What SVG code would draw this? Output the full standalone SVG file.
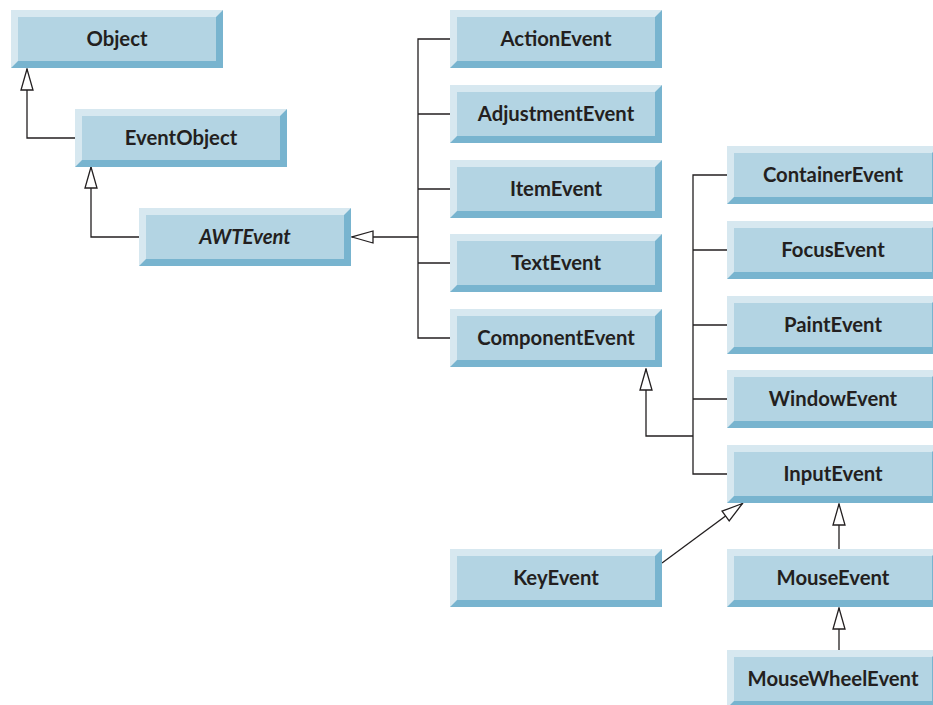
<svg xmlns="http://www.w3.org/2000/svg" width="933" height="705" viewBox="0 0 933 705">
<defs>
<style>
.lt{fill:#d7e8f0}
.dk{fill:#78b4cf}
.fc{fill:#b3d4e3}
.t{font-family:Lato,"Open Sans","Liberation Sans",sans-serif;font-weight:bold;font-size:20.3px;fill:#231f20;text-anchor:middle}
.it{font-style:italic}
.c{stroke:#231f20;stroke-width:1.3;fill:none}
</style>
<marker id="tri" viewBox="0 0 24 14" refX="23" refY="7" markerWidth="24" markerHeight="14" markerUnits="userSpaceOnUse" orient="auto">
<path d="M23,7 L2,1 L2,13 Z" fill="#fff" stroke="#231f20" stroke-width="1.3"/>
</marker>
<g id="box">
<rect x="0" y="0" width="212" height="58" class="dk"/>
<polygon points="0,0 212,0 205,7 7,7 7,51 0,58" class="lt"/>
<rect x="7" y="7" width="198" height="44" class="fc"/>
</g>
</defs>
<g id="connectors">
<path class="c" d="M75,138 H27 V69" marker-end="url(#tri)"/>
<path class="c" d="M139,237 H91 V167" marker-end="url(#tri)"/>
<path class="c" d="M418,237 H352" marker-end="url(#tri)"/>
<path class="c" d="M450,39 H418 V338 H450 M418,114 H450 M418,189 H450 M418,263 H450"/>
<path class="c" d="M693,436 H646 V369" marker-end="url(#tri)"/>
<path class="c" d="M727,175 H693 V474 H727 M693,250 H727 M693,325 H727 M693,399 H727"/>
<path class="c" d="M662,563 L742.5,503.5" marker-end="url(#tri)"/>
<path class="c" d="M839,549 V504" marker-end="url(#tri)"/>
<path class="c" d="M839,650 V608" marker-end="url(#tri)"/>
</g>
<g id="Object"><use href="#box" x="11" y="10"/><text class="t" x="117" y="46">Object</text></g>
<g id="EventObject"><use href="#box" x="75" y="109"/><text class="t" x="181" y="145">EventObject</text></g>
<g id="AWTEvent"><use href="#box" x="139" y="208"/><text class="t it" x="245" y="244">AWTEvent</text></g>
<g id="ActionEvent"><use href="#box" x="450" y="10"/><text class="t" x="556" y="46">ActionEvent</text></g>
<g id="AdjustmentEvent"><use href="#box" x="450" y="85"/><text class="t" x="556" y="121">AdjustmentEvent</text></g>
<g id="ItemEvent"><use href="#box" x="450" y="160"/><text class="t" x="556" y="196">ItemEvent</text></g>
<g id="TextEvent"><use href="#box" x="450" y="234"/><text class="t" x="556" y="270">TextEvent</text></g>
<g id="ComponentEvent"><use href="#box" x="450" y="309"/><text class="t" x="556" y="345">ComponentEvent</text></g>
<g id="ContainerEvent"><use href="#box" x="727" y="146"/><text class="t" x="833" y="182">ContainerEvent</text></g>
<g id="FocusEvent"><use href="#box" x="727" y="221"/><text class="t" x="833" y="257">FocusEvent</text></g>
<g id="PaintEvent"><use href="#box" x="727" y="296"/><text class="t" x="833" y="332">PaintEvent</text></g>
<g id="WindowEvent"><use href="#box" x="727" y="370"/><text class="t" x="833" y="406">WindowEvent</text></g>
<g id="InputEvent"><use href="#box" x="727" y="445"/><text class="t" x="833" y="481">InputEvent</text></g>
<g id="KeyEvent"><use href="#box" x="450" y="549"/><text class="t" x="556" y="585">KeyEvent</text></g>
<g id="MouseEvent"><use href="#box" x="727" y="549"/><text class="t" x="833" y="585">MouseEvent</text></g>
<g id="MouseWheelEvent"><use href="#box" x="727" y="650"/><text class="t" x="833" y="686">MouseWheelEvent</text></g>
</svg>
